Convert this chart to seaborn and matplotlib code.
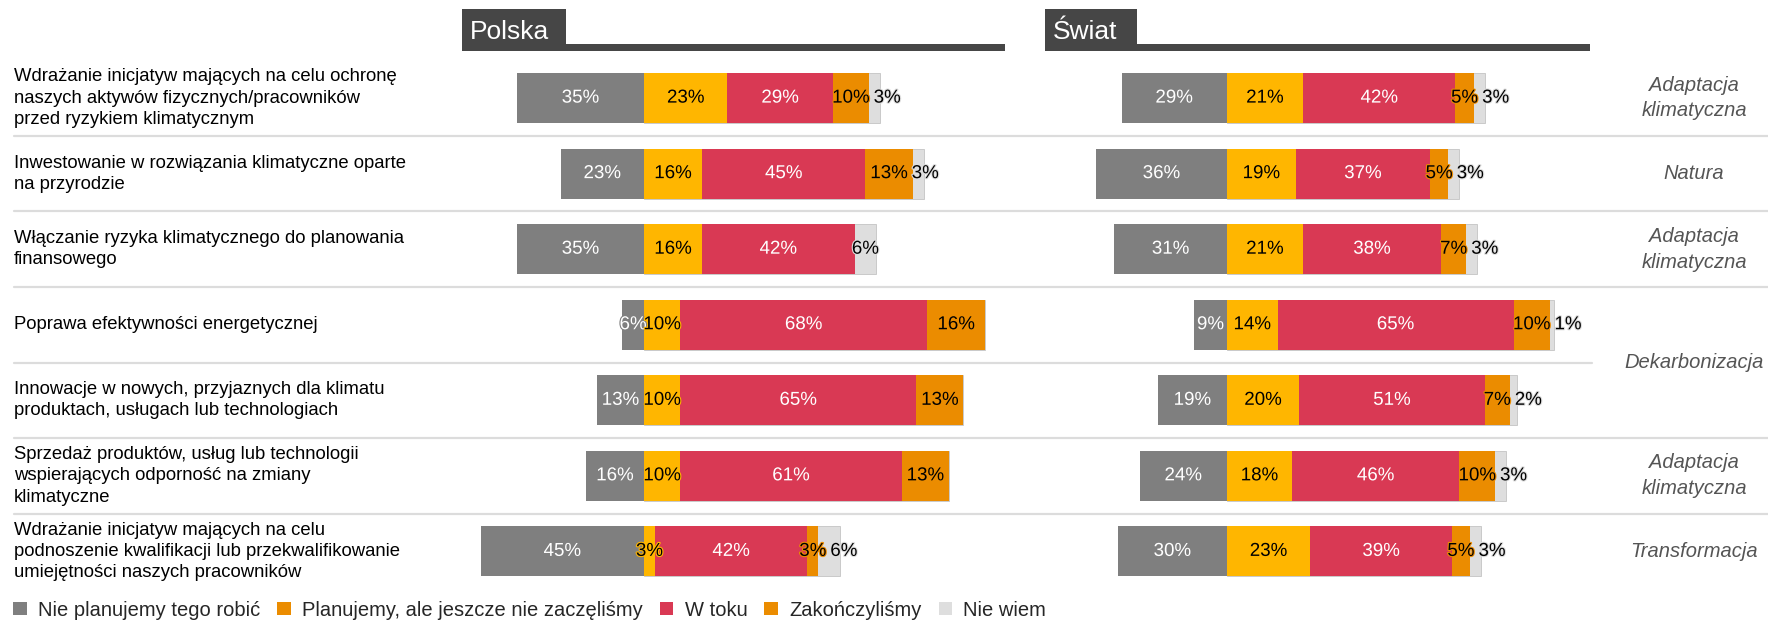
import matplotlib
matplotlib.use("Agg")
import matplotlib.pyplot as plt
import matplotlib.patheffects as pe
from matplotlib.patches import Rectangle, Patch
from matplotlib.lines import Line2D
import matplotlib.transforms as mtransforms
import numpy as np
import pandas as pd
import seaborn as sns

# Dane
categories = [
    "Wdrażanie inicjatyw mających na celu ochronę\nnaszych aktywów fizycznych/pracowników\nprzed ryzykiem klimatycznym",
    "Inwestowanie w rozwiązania klimatyczne oparte\nna przyrodzie",
    "Włączanie ryzyka klimatycznego do planowania\nfinansowego",
    "Poprawa efektywności energetycznej",
    "Innowacje w nowych, przyjaznych dla klimatu\nproduktach, usługach lub technologiach",
    "Sprzedaż produktów, usług lub technologii\nwspierających odporność na zmiany\nklimatyczne",
    "Wdrażanie inicjatyw mających na celu\npodnoszenie kwalifikacji lub przekwalifikowanie\numiejętności naszych pracowników",
]
statuses = ["Nie planujemy tego robić", "Planujemy, ale jeszcze nie zaczęliśmy",
            "W toku", "Zakończyliśmy", "Nie wiem"]
panels = ["Polska", "Świat"]

polska_nie = [35, 23, 35, 6, 13, 16, 45]
polska_plan = [23, 16, 16, 10, 10, 10, 3]
polska_tok = [29, 45, 42, 68, 65, 61, 42]
polska_zak = [10, 13, 0, 16, 13, 13, 3]
polska_nw = [3, 3, 6, 0, 0, 0, 6]

swiat_nie = [29, 36, 31, 9, 19, 24, 30]
swiat_plan = [21, 19, 21, 14, 20, 18, 23]
swiat_tok = [42, 37, 38, 65, 51, 46, 39]
swiat_zak = [5, 5, 7, 10, 7, 10, 5]
swiat_nw = [3, 3, 3, 1, 2, 3, 3]

group_labels = ["Adaptacja\nklimatyczna", "Natura", "Adaptacja\nklimatyczna",
                "Dekarbonizacja", "Adaptacja\nklimatyczna", "Transformacja"]
group_rows = [(0, 0), (1, 1), (2, 2), (3, 4), (5, 5), (6, 6)]

colors = ["#7f7f7f", "#ffb600", "#d93954", "#eb8c00", "#dedede"]
legend_colors = ["#7f7f7f", "#eb8c00", "#d93954", "#eb8c00", "#dedede"]
text_colors = ["white", "black", "white", "black", "black"]

sns.set_theme(style="white")
plt.rcParams['font.family'] = ['Liberation Sans', 'DejaVu Sans']

W, H = 1768, 620
fig = plt.figure(figsize=(W / 100, H / 100), dpi=100)
renderer = fig.canvas.get_renderer()

XMIN, XMAX = -56, 101
px_per_unit = 3.63
ax_w = (XMAX - XMIN) * px_per_unit
row_h = 75.55
ax_top = 98.1 - row_h / 2
ax_h = 7 * row_h
zeros = [644, 1226.8]


def draw_panel(ax, nie, plan, tok, zak, nw):
    df = pd.DataFrame({"row": range(len(nie)), "nie": nie, "plan": plan,
                       "tok": tok, "zak": zak, "nw": nw})
    cols = ["plan", "tok", "zak", "nw"]
    cum = df[cols].cumsum(axis=1)
    # warstwy od najdluzszej do najkrotszej
    for k in range(len(cols) - 1, -1, -1):
        outer = k == len(cols) - 1
        sns.barplot(x=cum[cols[k]], y=df["row"], orient="h", color=colors[k + 1],
                    width=0.66, saturation=1, ax=ax,
                    linewidth=0.6 if outer else 0, edgecolor="#c4c4c4")
    sns.barplot(x=-df["nie"], y=df["row"], orient="h", color=colors[0],
                width=0.66, saturation=1, linewidth=0, ax=ax)
    ax.set_xlim(XMIN, XMAX)
    ax.set_ylim(len(nie) - 0.5, -0.5)
    ax.axis("off")

    # etykiety - ostatnia przesuwana w prawo, gdy nachodzi na poprzednia
    inv = ax.transData.inverted()
    for i, r in df.iterrows():
        segs = [(-r["nie"], 0)]
        start = 0
        for c in cols:
            segs.append((start, start + r[c]))
            start += r[c]
        vals = [r["nie"], r["plan"], r["tok"], r["zak"], r["nw"]]
        prev_right = None
        for k, (a, b) in enumerate(segs):
            v = vals[k]
            if v <= 0:
                continue
            fx = [pe.withStroke(linewidth=1.6, foreground=colors[k])]
            t = ax.text((a + b) / 2, i, f"{v}%", ha="center", va="center",
                        fontsize=13.5, color=text_colors[k], path_effects=fx)
            bb = t.get_window_extent(renderer)
            if k == 4 and prev_right is not None and bb.x0 < prev_right + 4:
                shift = prev_right + 4 - bb.x0
                cx = inv.transform(((bb.x0 + bb.x1) / 2 + shift, 0))[0]
                t.set_x(cx)
                bb = t.get_window_extent(renderer)
            prev_right = bb.x1


data = [(polska_nie, polska_plan, polska_tok, polska_zak, polska_nw),
        (swiat_nie, swiat_plan, swiat_tok, swiat_zak, swiat_nw)]
axes = []
for z, d in zip(zeros, data):
    left = z + XMIN * px_per_unit
    ax = fig.add_axes([left / W, 1 - (ax_top + ax_h) / H, ax_w / W, ax_h / H])
    draw_panel(ax, *d)
    axes.append(ax)

ax0 = axes[0]
trans = mtransforms.blended_transform_factory(fig.transFigure, ax0.transData)

# opisy wierszy
for i, lab in enumerate(categories):
    ax0.text(14 / W, i, lab, transform=trans, ha="left", va="center",
             fontsize=13.3, color="black", linespacing=1.32)

# linie rozdzielajace
for i in range(len(categories) - 1):
    x_end = 1592 / W if i == 3 else 1.0
    fig.add_artist(Line2D([14 / W, x_end], [i + 0.5, i + 0.5], transform=trans,
                          color="#dcdcdc", linewidth=1.6))

# kategorie po prawej
for lab, (r0, r1) in zip(group_labels, group_rows):
    ax0.text(1694 / W, (r0 + r1) / 2, lab, transform=trans, ha="center", va="center",
             fontsize=14.5, style="italic", color="#555555", linespacing=1.45)

# naglowki paneli
headers = [(462, 566, 1005), (1045, 1137, 1590)]
for name, (x0, x1, x2) in zip(panels, headers):
    fig.add_artist(Rectangle((x0 / W, 1 - 51 / H), (x1 - x0) / W, 42 / H,
                             transform=fig.transFigure, color="#464646", lw=0))
    fig.add_artist(Rectangle((x1 / W, 1 - 51 / H), (x2 - x1) / W, 7 / H,
                             transform=fig.transFigure, color="#464646", lw=0))
    fig.text((x0 + 8) / W, 1 - 32 / H, name, ha="left", va="center",
             fontsize=19, color="white")

# legenda
handles = [Patch(facecolor=c, edgecolor="none") for c in legend_colors]
fig.legend(handles, statuses, loc="center left", bbox_to_anchor=(13 / W, 1 - 610 / H),
           ncol=5, frameon=False, fontsize=14.5, handlelength=0.68, handleheight=0.68,
           handletextpad=0.55, columnspacing=0.85, borderpad=0, borderaxespad=0)

fig.savefig("out.png", dpi=100)
